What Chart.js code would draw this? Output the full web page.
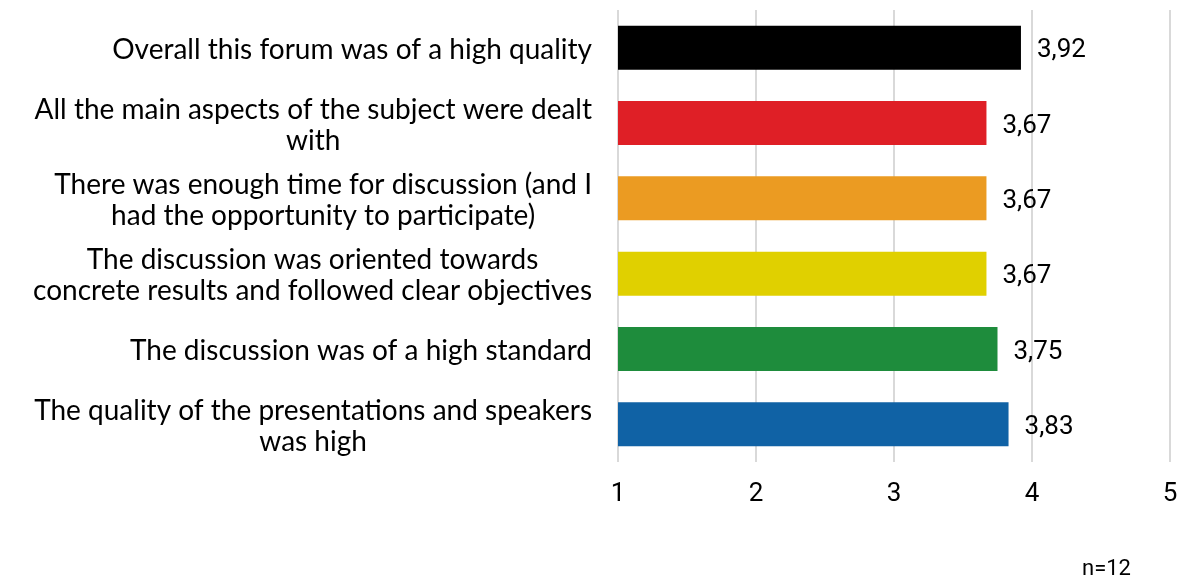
<!DOCTYPE html>
<html>
<head>
<meta charset="utf-8">
<script src="https://cdn.jsdelivr.net/npm/chart.js@4"></script>
<style>
html,body{margin:0;padding:0;background:#fff;}
#wrap{position:relative;width:1178px;height:579px;}
</style>
</head>
<body>
<div id="wrap"><canvas id="c" width="1178" height="579"></canvas></div>
<script>
const categories = [
  ["Overall this forum was of a high quality"],
  ["All the main aspects of the subject were dealt", "with"],
  ["There was enough time for discussion (and I", "had the opportunity to participate)"],
  ["The discussion was oriented towards", "concrete results and followed clear objectives"],
  ["The discussion was of a high standard"],
  ["The quality of the presentations and speakers", "was high"]
];
const values = [3.92, 3.67, 3.67, 3.67, 3.75, 3.83];
const barColors = ["#000000", "#df1f26", "#eb9b22", "#e0d000", "#1e8c3c", "#1062a5"];
const xTicks = [1, 2, 3, 4, 5];
const footnote = "n=12";

const LABEL_FONT = '28px Lato, "Open Sans", sans-serif';
const NUM_FONT = '26px Roboto, sans-serif';

const labelPlugin = {
  id: 'labels',
  afterDraw(chart) {
    const ctx = chart.ctx;
    const y = chart.scales.y;
    ctx.save();
    ctx.font = LABEL_FONT;
    ctx.fillStyle = '#000';
    ctx.textBaseline = 'middle';
    ctx.textAlign = 'center';
    const right = chart.chartArea.left - 26;
    const lh = 31;
    categories.forEach((lines, i) => {
      const cy = y.getPixelForValue(i) + 2;
      const w = Math.max(...lines.map(l => ctx.measureText(l).width));
      const cx = right - w / 2;
      const top = cy - (lines.length - 1) * lh / 2;
      lines.forEach((l, k) => ctx.fillText(l, cx, top + k * lh));
    });
    ctx.font = NUM_FONT;
    ctx.textAlign = 'left';
    const meta = chart.getDatasetMeta(0);
    meta.data.forEach((bar, i) => {
      ctx.fillText(values[i].toFixed(2).replace('.', ','), bar.x + 16, bar.y + 3);
    });
    ctx.font = '22px Roboto, sans-serif';
    ctx.fillText(footnote, 1082, 569);
    ctx.restore();
  }
};

new Chart(document.getElementById('c'), {
  type: 'bar',
  data: {
    labels: categories,
    datasets: [{
      data: values,
      backgroundColor: barColors,
      borderWidth: 0,
      barPercentage: 0.585,
      categoryPercentage: 1.0
    }]
  },
  options: {
    indexAxis: 'y',
    responsive: false,
    animation: false,
    layout: { padding: { top: 10, right: 8, left: 0, bottom: 0 } },
    plugins: { legend: { display: false }, tooltip: { enabled: false } },
    scales: {
      x: {
        min: 1, max: 5,
        afterBuildTicks(scale) { scale.ticks = xTicks.map(v => ({ value: v })); },
        afterFit(scale) { scale.height = 117; scale.paddingRight = 0; scale.paddingLeft = 0; },
        grid: { color: '#d9d9d9', lineWidth: 2, drawTicks: false },
        border: { display: false },
        ticks: {
          padding: 17,
          color: '#000',
          font: { family: 'Roboto, sans-serif', size: 26 }
        }
      },
      y: {
        afterFit(scale) { scale.width = 618; },
        grid: { display: false },
        border: { display: false },
        ticks: { display: false }
      }
    }
  },
  plugins: [labelPlugin]
});
</script>
</body>
</html>
